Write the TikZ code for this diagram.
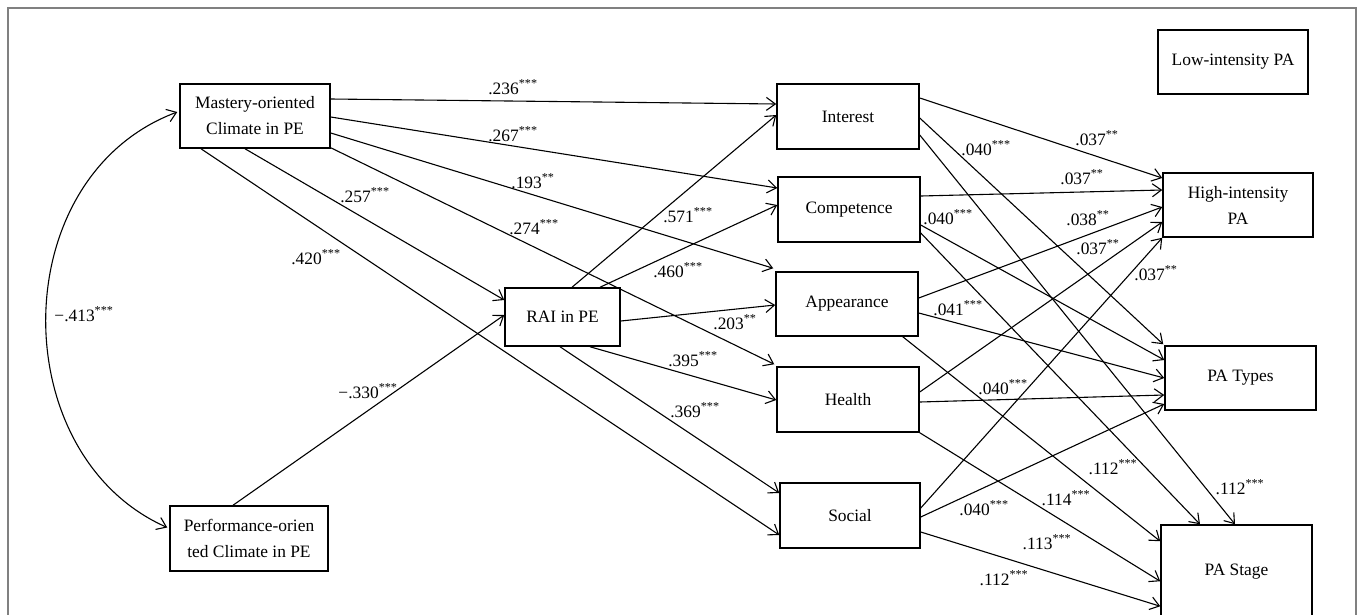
\documentclass[tikz,border=0pt]{standalone}
\usepackage{fontspec}
\setmainfont{Liberation Serif}
\usetikzlibrary{arrows.meta}
\begin{document}
\begin{tikzpicture}[x=1pt,y=-1pt,
  box/.style={draw,line width=1.5pt,inner sep=0pt,align=center,font=\fontsize{17.4}{26}\selectfont},
  arr/.style={-{Straight Barb[length=9pt,width=13pt]},line width=1.1pt},
  biarr/.style={{Straight Barb[length=9pt,width=13pt]}-{Straight Barb[length=9pt,width=13pt]},line width=1.1pt},
  lab/.style={font=\fontsize{17.4}{20}\selectfont,inner sep=0pt},
  frame/.style={draw=black!50,line width=1.5pt}]
\useasboundingbox (0,0) rectangle (1357,614);
\draw[frame] (8,630) -- (8,8) -- (1356,8) -- (1356,630);

% nodes
\node[box,minimum width=150pt,minimum height=64pt] (M) at (255,116) {Mastery-oriented\\Climate in PE};
\node[box,minimum width=158pt,minimum height=65pt] (P) at (249,538.5) {Performance-orien\\ted Climate in PE};
\node[box,minimum width=115pt,minimum height=58pt] (R) at (562.5,317) {RAI in PE};
\node[box,minimum width=142pt,minimum height=65pt] (I) at (848,116.5) {Interest};
\node[box,minimum width=142pt,minimum height=65pt] (C) at (849,209.5) {Competence};
\node[box,minimum width=142pt,minimum height=64pt] (A) at (847,304) {Appearance};
\node[box,minimum width=142pt,minimum height=65pt] (H) at (848,399.5) {Health};
\node[box,minimum width=140pt,minimum height=65pt] (S) at (850,515.5) {Social};
\node[box,minimum width=150pt,minimum height=64pt] (L) at (1233,62) {Low-intensity PA};
\node[box,minimum width=150pt,minimum height=64pt] (Hi) at (1238,205) {High-intensity\\PA};
\node[box,minimum width=151pt,minimum height=64pt] (T) at (1240.5,378) {PA Types};
\node[box,minimum width=151pt,minimum height=94pt] (St) at (1236.5,572) {PA Stage};

% covariance
\draw[biarr] ([shift={(-2,-11)}]P.west) .. controls (4,455) and (4,177) .. ([shift={(-2,-4)}]M.west);

% from Mastery
\draw[arr] ([shift={(0,-17)}]M.east) -- ([shift={(0,-12.5)}]I.west);
\draw[arr] ([shift={(0,1)}]M.east) -- ([shift={(0,-21.5)}]C.west);
\draw[arr] ([shift={(0,17)}]M.east) -- ([shift={(-2,-3)}]A.north west);
\draw[arr] ([shift={(0,-1)}]M.south east) -- ([shift={(-2,-2)}]H.north west);
\draw[arr] ([shift={(-10,0)}]M.south) -- ([shift={(0,-17)}]R.west);
\draw[arr] ([shift={(-54,0)}]M.south) -- ([shift={(0,19.5)}]S.west);
% from Performance
\draw[arr] ([shift={(-16,0)}]P.north) -- ([shift={(0,-2)}]R.west);
% from RAI
\draw[arr] ([shift={(9.5,0)}]R.north) -- ([shift={(0,-1.5)}]I.west);
\draw[arr] ([shift={(37.5,0)}]R.north) -- ([shift={(0,-4.5)}]C.west);
\draw[arr] ([shift={(0,4)}]R.east) -- ([shift={(0,1)}]A.west);
\draw[arr] ([shift={(27.5,0)}]R.south) -- ([shift={(0,0.5)}]H.west);
\draw[arr] ([shift={(-2.5,0)}]R.south) -- ([shift={(0,-22.5)}]S.west);

% to outcomes
\draw[arr] ([shift={(0,-18.5)}]I.east) -- ([shift={(0,-27)}]Hi.west);
\draw[arr] ([shift={(0,1.5)}]I.east) -- ([shift={(-1,-1)}]T.north west);
\draw[arr] ([shift={(0,18.5)}]I.east) -- ([shift={(-1.5,0)}]St.north);
\draw[arr] ([shift={(0,-13.5)}]C.east) -- ([shift={(0,-15)}]Hi.west);
\draw[arr] ([shift={(0,15.5)}]C.east) -- ([shift={(0,-18)}]T.west);
\draw[arr] ([shift={(0,23.5)}]C.east) -- ([shift={(-36.5,0)}]St.north);
\draw[arr] ([shift={(0,-6)}]A.east) -- ([shift={(0,2)}]Hi.west);
\draw[arr] ([shift={(0,9)}]A.east) -- (T.west);
\draw[arr] ([shift={(-16,0)}]A.south east) -- ([shift={(0,17)}]St.north west);
\draw[arr] ([shift={(0,-7.5)}]H.east) -- ([shift={(0,17)}]Hi.west);
\draw[arr] ([shift={(0,2.5)}]H.east) -- ([shift={(0,17)}]T.west);
\draw[arr] (H.south east) -- ([shift={(0,57)}]St.north west);
\draw[arr] ([shift={(0,-7.5)}]S.east) -- (Hi.south west);
\draw[arr] ([shift={(0,1.5)}]S.east) -- ([shift={(0,26)}]T.west);
\draw[arr] ([shift={(0,16.5)}]S.east) -- ([shift={(0,82)}]St.north west);

% labels
\node[lab] (l1) at (513,87) {.236\textsuperscript{***}};
\node[lab] (l2) at (513,134) {.267\textsuperscript{***}};
\node[lab] (l3) at (533,181) {.193\textsuperscript{**}};
\node[lab] (l4) at (534,227) {.274\textsuperscript{***}};
\node[lab] (l5) at (365,195) {.257\textsuperscript{***}};
\node[lab] (l6) at (316,257) {.420\textsuperscript{***}};
\node[lab] (l7) at (84,314) {−.413\textsuperscript{***}};
\node[lab] (l8) at (368,391) {−.330\textsuperscript{***}};
\node[lab] (l9) at (688,215) {.571\textsuperscript{***}};
\node[lab] (l10) at (678,270) {.460\textsuperscript{***}};
\node[lab] (l11) at (735,322) {.203\textsuperscript{**}};
\node[lab] (l12) at (693,359) {.395\textsuperscript{***}};
\node[lab] (l13) at (695,410) {.369\textsuperscript{***}};
\node[lab] (l14) at (1097,138) {.037\textsuperscript{**}};
\node[lab] (l15) at (986,148) {.040\textsuperscript{***}};
\node[lab] (l16) at (1082,177) {.037\textsuperscript{**}};
\node[lab] (l17) at (948,217) {.040\textsuperscript{***}};
\node[lab] (l18) at (1088,218) {.038\textsuperscript{**}};
\node[lab] (l19) at (1098,247) {.037\textsuperscript{**}};
\node[lab] (l20) at (1156,273) {.037\textsuperscript{**}};
\node[lab] (l21) at (958,308) {.041\textsuperscript{***}};
\node[lab] (l22) at (1003,387) {.040\textsuperscript{***}};
\node[lab] (l23) at (984,508) {.040\textsuperscript{***}};
\node[lab] (l24) at (1113,467) {.112\textsuperscript{***}};
\node[lab] (l25) at (1066,498) {.114\textsuperscript{***}};
\node[lab] (l26) at (1047,542) {.113\textsuperscript{***}};
\node[lab] (l27) at (1004,578) {.112\textsuperscript{***}};
\node[lab] (l28) at (1240,487) {.112\textsuperscript{***}};
\end{tikzpicture}
\end{document}
